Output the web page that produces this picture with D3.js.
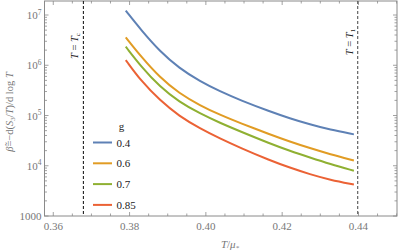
<!DOCTYPE html>
<html>
<head>
<meta charset="utf-8">
<script src="https://cdn.jsdelivr.net/npm/d3@7"></script>
<style>
  body { margin: 0; background: #fff; }
  svg text { font-family: "Liberation Serif", "DejaVu Serif", serif; }
</style>
</head>
<body>
<svg id="chart" width="399" height="252"></svg>
<script>
(function(){
const width = 399;
const height = 252;

// --- Data ---
const temps = [0.379, 0.383, 0.388, 0.393, 0.3985, 0.4037, 0.409, 0.4168, 0.422, 0.4273, 0.4325, 0.4388];
const gValues = ["0.4", "0.6", "0.7", "0.85"];
const beta04  = [1.22e7, 5.04e6, 1.87e6, 8.75e5, 4.76e5, 3.02e5, 2.02e5, 1.20e5, 8.79e4, 6.64e4, 5.22e4, 4.21e4];
const beta06  = [3.6e6, 1.49e6, 5.65e5, 2.77e5, 1.58e5, 1.03e5, 7.06e4, 4.2e4, 3.03e4, 2.24e4, 1.70e4, 1.27e4];
const beta07  = [2.34e6, 9.48e5, 3.69e5, 1.87e5, 1.09e5, 7.14e4, 4.83e4, 2.77e4, 1.98e4, 1.46e4, 1.09e4, 7.94e3];
const beta085 = [1.27e6, 4.88e5, 1.99e5, 9.73e4, 5.51e4, 3.49e4, 2.28e4, 1.28e4, 9.16e3, 6.76e3, 5.26e3, 4.23e3];
const xTicks = [0.36, 0.38, 0.40, 0.42, 0.44];
const yTicks = [1e3, 1e4, 1e5, 1e6, 1e7];
const Tc = 0.3679;
const T1 = 0.4398;

const colors = ["#5E81B5", "#E19C24", "#8FB032", "#EB6235"];
const series = [beta04, beta06, beta07, beta085].map((vals, i) => ({
  g: gValues[i],
  color: colors[i],
  points: temps.map((t, j) => ({ t: t, v: vals[j] }))
}));

const margin = { left: 44.5, right: 2, top: 1, bottom: 36 };
const x = d3.scaleLinear().domain([0.3577, 0.4501]).range([margin.left, width - margin.right]);
const y = d3.scaleLog().domain([1000, 1.9e7]).range([height - margin.bottom, margin.top]);

const svg = d3.select("#chart");
const gray = "#8a8a8a";
const textGray = "#777";

// --- Frame ---
svg.append("rect")
  .attr("x", margin.left).attr("y", margin.top)
  .attr("width", width - margin.right - margin.left)
  .attr("height", height - margin.bottom - margin.top)
  .attr("fill", "none").attr("stroke", gray).attr("stroke-width", 1);

// --- Ticks ---
const minorX = d3.range(0.36, 0.4501, 0.005).filter(v => v >= 0.3577);
const minorY = [];
[1e3, 1e4, 1e5, 1e6, 1e7].forEach(d => {
  for (let k = 2; k <= 9; k++) if (d * k <= 1.9e7) minorY.push(d * k);
});

function xTickLines(vals, len) {
  const yb = height - margin.bottom, yt = margin.top;
  const g = svg.append("g").attr("stroke", gray).attr("stroke-width", 0.8);
  vals.forEach(v => {
    g.append("line").attr("x1", x(v)).attr("x2", x(v)).attr("y1", yb).attr("y2", yb - len);
    g.append("line").attr("x1", x(v)).attr("x2", x(v)).attr("y1", yt).attr("y2", yt + len);
  });
}
function yTickLines(vals, len) {
  const xl = margin.left, xr = width - margin.right;
  const g = svg.append("g").attr("stroke", gray).attr("stroke-width", 0.8);
  vals.forEach(v => {
    g.append("line").attr("y1", y(v)).attr("y2", y(v)).attr("x1", xl).attr("x2", xl + len);
    g.append("line").attr("y1", y(v)).attr("y2", y(v)).attr("x1", xr).attr("x2", xr - len);
  });
}
xTickLines(xTicks, 4);
xTickLines(minorX.filter(v => !xTicks.some(t => Math.abs(t - v) < 1e-6)), 2.5);
yTickLines(yTicks, 4);
yTickLines(minorY, 2.5);

// --- Tick labels ---
svg.append("g").selectAll("text")
  .data(xTicks).enter().append("text")
  .attr("x", d => x(d)).attr("y", height - margin.bottom + 14)
  .attr("text-anchor", "middle").attr("font-size", 11).attr("fill", textGray)
  .text(d => d.toFixed(2));

const yl = svg.append("g");
yTicks.forEach(v => {
  const e = Math.round(Math.log10(v));
  const t = yl.append("text")
    .attr("x", margin.left - 3).attr("y", y(v) + 4)
    .attr("text-anchor", "end").attr("font-size", 11).attr("fill", textGray);
  if (e === 3) {
    t.text("1000");
  } else {
    t.append("tspan").text("10");
    t.append("tspan").attr("font-size", 7.5).attr("dy", -4.5).text(e);
  }
});

// --- Axis titles ---
svg.append("text")
  .attr("x", 230).attr("y", 248)
  .attr("text-anchor", "middle").attr("font-size", 11).attr("fill", textGray)
  .attr("font-style", "italic")
  .html('T<tspan font-style="normal">/</tspan>μ<tspan font-size="7" dy="2">*</tspan>');

svg.append("text")
  .attr("transform", "translate(13,112) rotate(-90)")
  .attr("text-anchor", "middle").attr("font-size", 10.5).attr("fill", textGray)
  .html('<tspan font-style="italic">β̃</tspan>=−d(<tspan font-style="italic">S</tspan><tspan font-size="7" dy="2">3</tspan><tspan dy="-2">/</tspan><tspan font-style="italic">T</tspan>)/d log <tspan font-style="italic">T</tspan>');

// --- Dashed reference lines ---
[{ t: Tc, sub: "c" }, { t: T1, sub: "1" }].forEach(d => {
  svg.append("line")
    .attr("x1", x(d.t)).attr("x2", x(d.t))
    .attr("y1", margin.top).attr("y2", height - margin.bottom)
    .attr("stroke", d.sub === "c" ? "#222" : "#555")
    .attr("stroke-width", 1.1).attr("stroke-dasharray", "3,2");
  svg.append("text")
    .attr("transform", `translate(${x(d.t) - 5},${d.sub === "c" ? 46 : 42}) rotate(-90)`)
    .attr("text-anchor", "middle").attr("font-size", 10.5).attr("fill", "#222")
    .html(`<tspan font-style="italic">T</tspan> = <tspan font-style="italic">T</tspan><tspan font-size="7" dy="2">${d.sub}</tspan>`);
});

// --- Curves ---
const line = d3.line()
  .x(d => x(d.t))
  .y(d => y(d.v))
  .curve(d3.curveBasis);

svg.append("g").selectAll("path")
  .data(series).enter().append("path")
  .attr("d", d => line(d.points))
  .attr("fill", "none")
  .attr("stroke", d => d.color)
  .attr("stroke-width", 2);

// --- Legend ---
const legend = svg.append("g");
legend.append("text")
  .attr("x", 121.5).attr("y", 130)
  .attr("text-anchor", "middle").attr("font-size", 11).attr("fill", "#222")
  .text("g");
series.forEach((s, i) => {
  const yy = 142.5 + i * 20.8;
  legend.append("line")
    .attr("x1", 93).attr("x2", 112).attr("y1", yy).attr("y2", yy)
    .attr("stroke", s.color).attr("stroke-width", 2);
  legend.append("text")
    .attr("x", 116.5).attr("y", yy + 4)
    .attr("font-size", 11).attr("fill", "#222")
    .text(s.g);
});
})();
</script>
</body>
</html>
